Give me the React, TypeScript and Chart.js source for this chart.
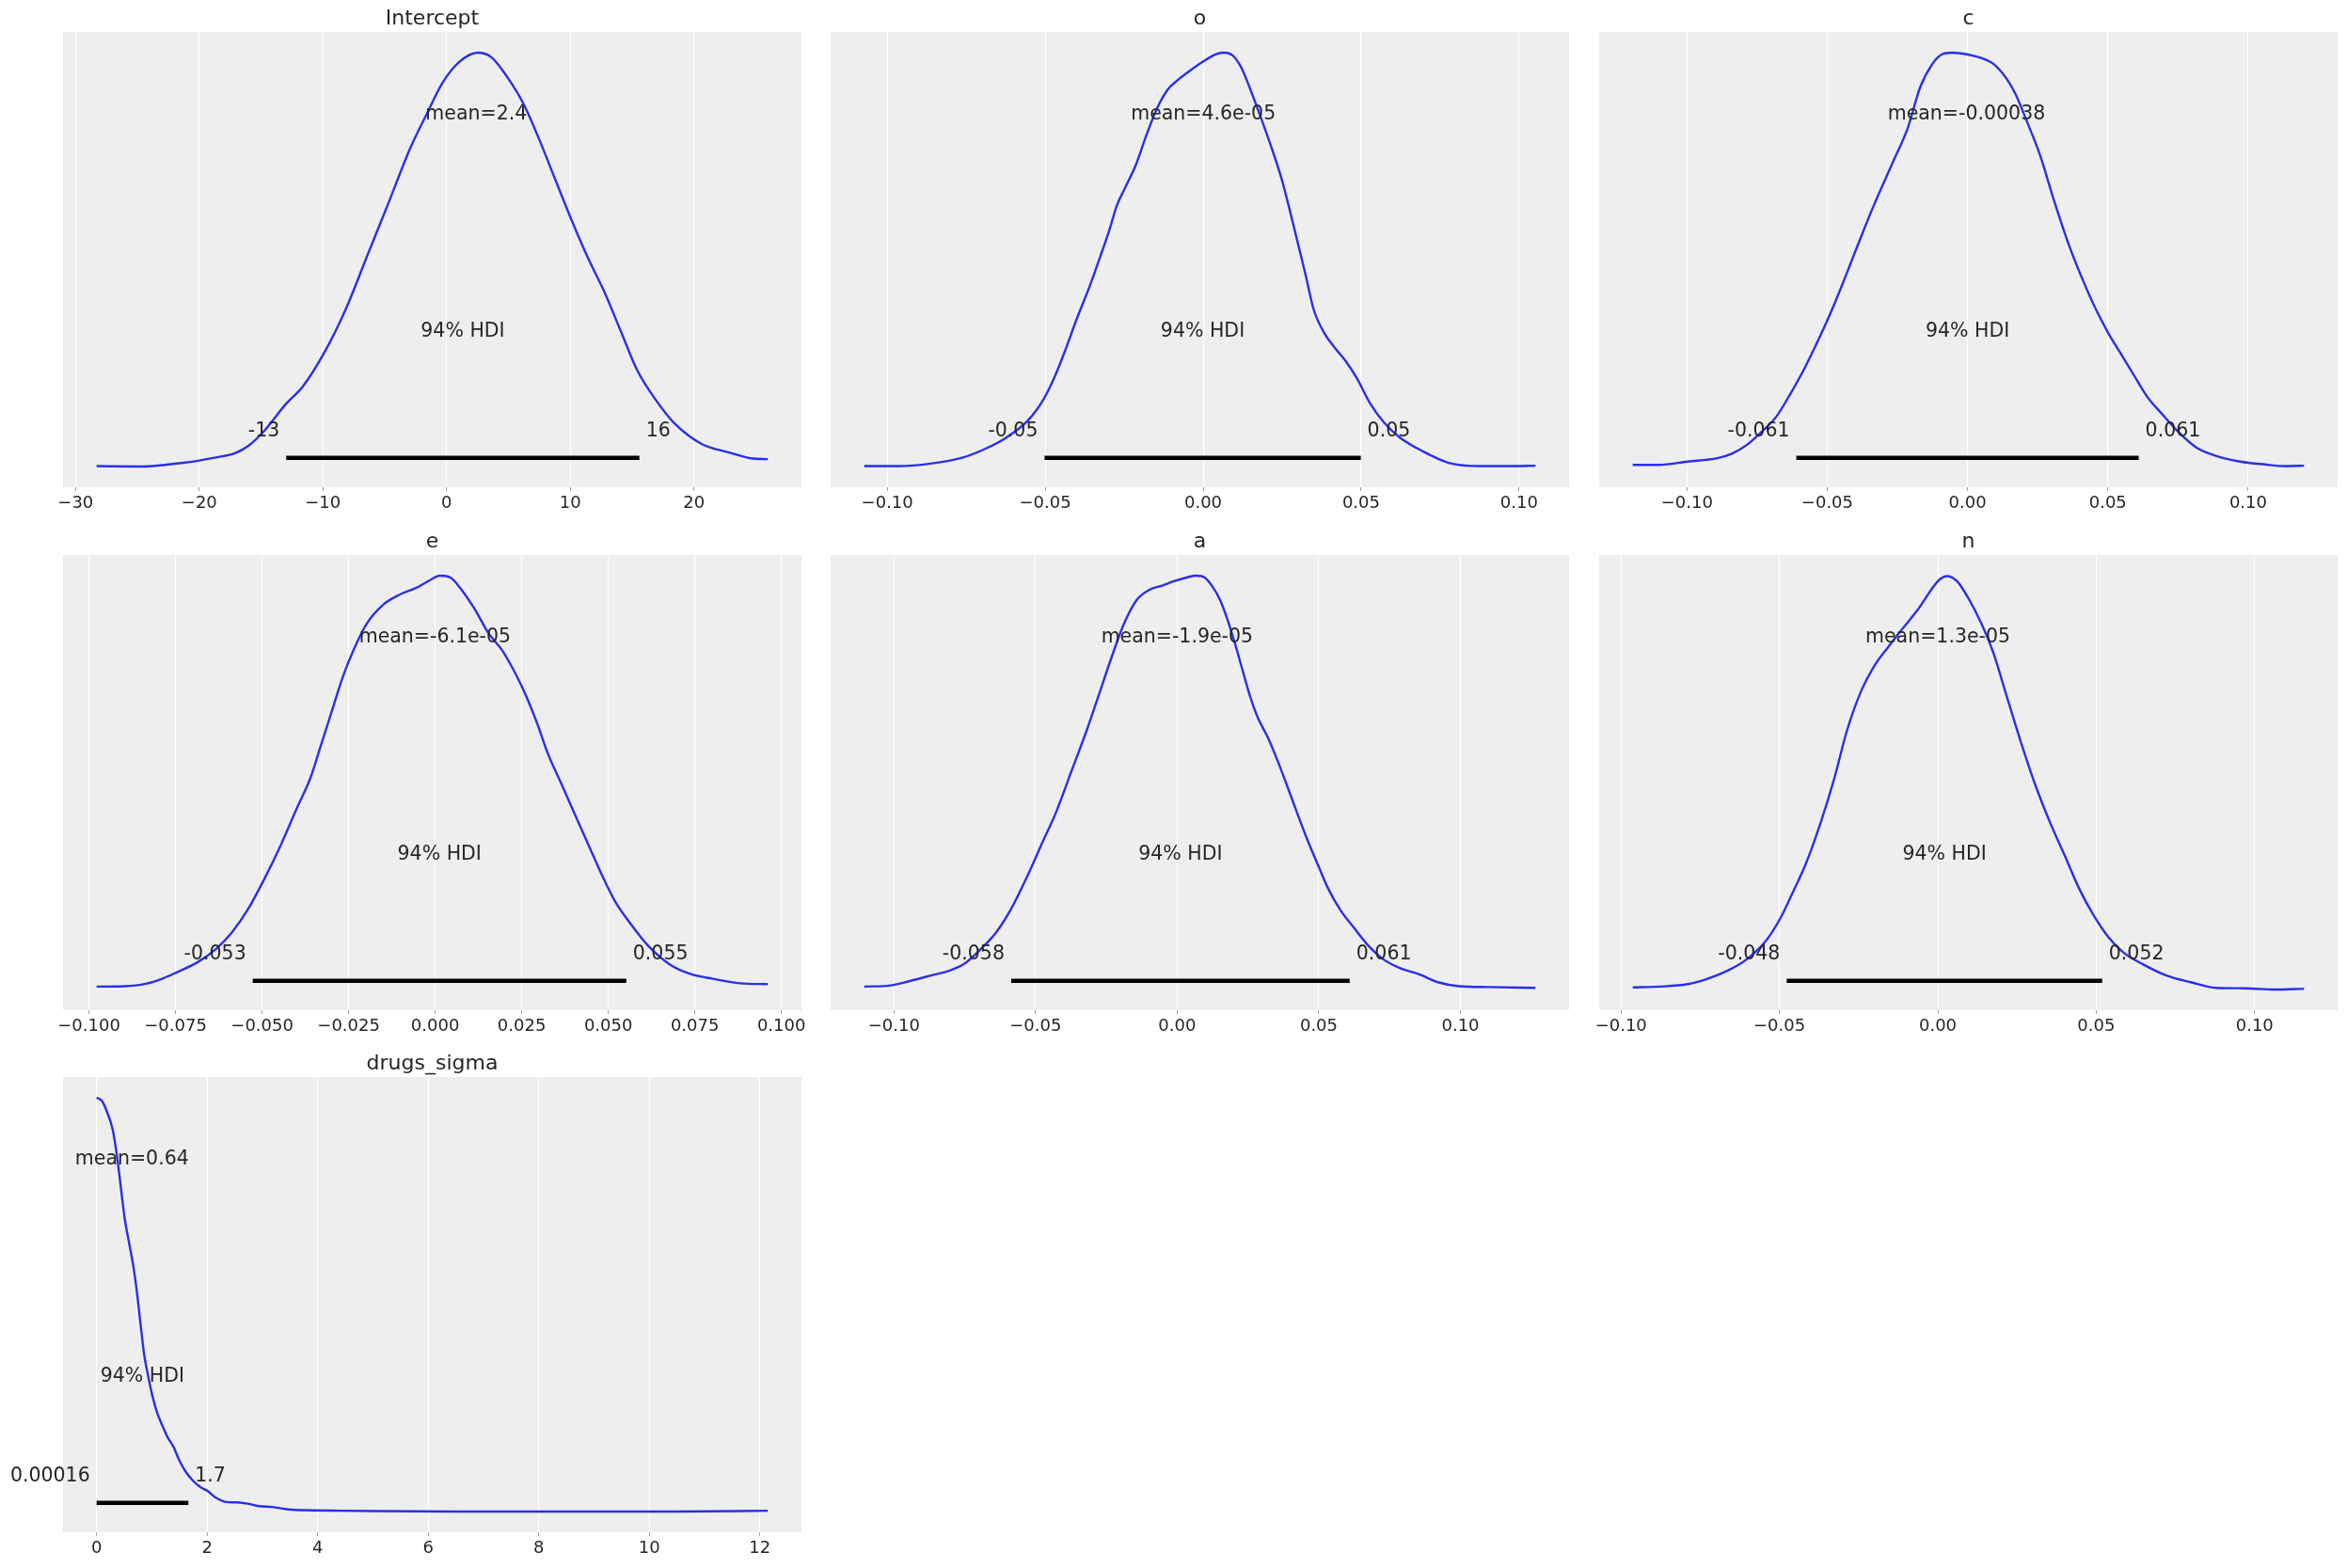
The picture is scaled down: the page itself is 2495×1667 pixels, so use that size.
import React, { useEffect, useRef } from "react";
import { Chart, registerables } from "chart.js";

Chart.register(...registerables);

// ---------------- data ----------------
const panelTitles = ["Intercept", "o", "c", "e", "a", "n", "drugs_sigma"];

const interceptX = [-28.3, -24.76, -21.27, -18.65, -17.12, -16.03, -14.72, -12.97, -11.66, -9.91, -8.17, -6.42, -4.67, -2.93, -1.62, -0.31, 1.0, 2.53, 3.62, 4.93, 6.24, 7.55, 8.86, 10.17, 11.48, 12.79, 14.1, 15.41, 16.94, 18.47, 20.66, 22.84, 24.59, 25.98];
const interceptDensity = [0.001, 0.0, 0.009, 0.022, 0.032, 0.05, 0.087, 0.152, 0.192, 0.274, 0.379, 0.509, 0.639, 0.77, 0.851, 0.928, 0.977, 1.0, 0.989, 0.94, 0.875, 0.786, 0.688, 0.591, 0.501, 0.42, 0.326, 0.233, 0.16, 0.103, 0.054, 0.034, 0.02, 0.018];

const oX = [-0.1073, -0.0965, -0.0863, -0.076, -0.0692, -0.0623, -0.0555, -0.0504, -0.047, -0.0436, -0.0401, -0.0359, -0.0325, -0.0299, -0.0273, -0.0248, -0.0213, -0.0179, -0.0145, -0.0111, -0.0077, -0.0034, 0.0009, 0.0043, 0.0068, 0.0094, 0.012, 0.0145, 0.0179, 0.0213, 0.0248, 0.0273, 0.0299, 0.0325, 0.035, 0.0384, 0.0418, 0.0453, 0.0487, 0.0529, 0.0572, 0.0623, 0.0692, 0.0777, 0.088, 0.0982, 0.1052];
const oDensity = [0.001, 0.001, 0.007, 0.022, 0.042, 0.07, 0.111, 0.164, 0.217, 0.282, 0.355, 0.436, 0.509, 0.566, 0.631, 0.672, 0.729, 0.802, 0.867, 0.912, 0.936, 0.961, 0.983, 0.997, 1.0, 0.993, 0.965, 0.92, 0.851, 0.778, 0.696, 0.623, 0.542, 0.461, 0.379, 0.322, 0.286, 0.253, 0.213, 0.152, 0.107, 0.07, 0.038, 0.009, 0.001, 0.001, 0.002];

const cX = [-0.1193, -0.1101, -0.0997, -0.0892, -0.084, -0.0787, -0.0735, -0.0683, -0.0631, -0.0578, -0.0526, -0.0483, -0.0439, -0.0387, -0.0334, -0.0265, -0.0213, -0.0169, -0.0125, -0.0091, -0.0056, -0.0003, 0.0049, 0.0092, 0.0136, 0.0171, 0.0206, 0.0258, 0.031, 0.0362, 0.0415, 0.0458, 0.0502, 0.0545, 0.0589, 0.0641, 0.0693, 0.0746, 0.0815, 0.0885, 0.0972, 0.1059, 0.1129, 0.1199];
const cDensity = [0.004, 0.004, 0.012, 0.02, 0.031, 0.052, 0.083, 0.119, 0.176, 0.241, 0.314, 0.379, 0.452, 0.542, 0.631, 0.737, 0.818, 0.916, 0.973, 0.996, 1.0, 0.996, 0.987, 0.973, 0.94, 0.9, 0.843, 0.753, 0.639, 0.534, 0.444, 0.379, 0.322, 0.274, 0.225, 0.168, 0.127, 0.087, 0.046, 0.026, 0.012, 0.005, 0.001, 0.002];

const eX = [-0.0978, -0.0899, -0.0836, -0.0789, -0.0743, -0.0688, -0.0633, -0.0587, -0.054, -0.0493, -0.0446, -0.0399, -0.036, -0.0329, -0.0298, -0.0267, -0.0236, -0.0197, -0.015, -0.0103, -0.0056, -0.0017, 0.0014, 0.0045, 0.0076, 0.0115, 0.0154, 0.0193, 0.0232, 0.0264, 0.0295, 0.0326, 0.0365, 0.0404, 0.0443, 0.0482, 0.0521, 0.0568, 0.0615, 0.0677, 0.0739, 0.0802, 0.088, 0.0961];
const eDensity = [0.007, 0.008, 0.014, 0.026, 0.043, 0.065, 0.098, 0.138, 0.195, 0.268, 0.349, 0.439, 0.512, 0.593, 0.674, 0.755, 0.82, 0.885, 0.93, 0.954, 0.97, 0.988, 1.0, 0.995, 0.966, 0.918, 0.861, 0.82, 0.763, 0.707, 0.642, 0.569, 0.496, 0.422, 0.349, 0.276, 0.211, 0.155, 0.106, 0.061, 0.037, 0.026, 0.015, 0.013];

const aX = [-0.1105, -0.1012, -0.0941, -0.087, -0.0799, -0.0746, -0.0693, -0.0639, -0.0586, -0.0533, -0.048, -0.0426, -0.0373, -0.032, -0.0275, -0.0231, -0.0187, -0.0142, -0.0098, -0.0053, -0.0009, 0.0036, 0.0067, 0.0098, 0.0124, 0.0151, 0.0178, 0.0204, 0.0231, 0.0258, 0.0284, 0.032, 0.0355, 0.0391, 0.0426, 0.0462, 0.0497, 0.0533, 0.0577, 0.0622, 0.0675, 0.0728, 0.0782, 0.0853, 0.0924, 0.0995, 0.1101, 0.1265];
const aDensity = [0.007, 0.01, 0.021, 0.034, 0.047, 0.065, 0.098, 0.138, 0.195, 0.268, 0.349, 0.431, 0.528, 0.625, 0.715, 0.804, 0.885, 0.942, 0.966, 0.976, 0.987, 0.996, 1.0, 0.995, 0.974, 0.942, 0.893, 0.836, 0.771, 0.707, 0.658, 0.609, 0.552, 0.487, 0.422, 0.358, 0.301, 0.244, 0.191, 0.151, 0.106, 0.073, 0.053, 0.037, 0.017, 0.008, 0.006, 0.004];

const nX = [-0.0963, -0.0881, -0.0789, -0.0727, -0.0665, -0.0603, -0.0542, -0.0495, -0.0457, -0.0418, -0.0372, -0.0326, -0.0287, -0.0241, -0.0202, -0.0156, -0.011, -0.0063, -0.0017, 0.0006, 0.0029, 0.006, 0.0099, 0.0137, 0.0176, 0.0215, 0.0261, 0.0307, 0.0353, 0.04, 0.0446, 0.0492, 0.0539, 0.0585, 0.0647, 0.0724, 0.0801, 0.0878, 0.0971, 0.1063, 0.1156];
const nDensity = [0.005, 0.007, 0.013, 0.026, 0.045, 0.073, 0.118, 0.175, 0.236, 0.301, 0.398, 0.512, 0.625, 0.723, 0.78, 0.828, 0.873, 0.918, 0.97, 0.991, 0.999, 0.987, 0.942, 0.885, 0.812, 0.715, 0.601, 0.496, 0.406, 0.325, 0.244, 0.179, 0.126, 0.09, 0.061, 0.033, 0.017, 0.004, 0.003, 0.0, 0.002];

const sigmaX = [0, 0.098, 0.196, 0.293, 0.372, 0.44, 0.509, 0.587, 0.665, 0.733, 0.802, 0.861, 0.929, 1.007, 1.095, 1.193, 1.291, 1.389, 1.496, 1.614, 1.741, 1.878, 2.005, 2.152, 2.347, 2.543, 2.738, 2.934, 3.178, 3.472, 3.912, 4.401, 5.086, 6.553, 8.509, 10.465, 12.147];
const sigmaDensity = [1.0, 0.992, 0.963, 0.922, 0.856, 0.782, 0.708, 0.65, 0.593, 0.527, 0.445, 0.379, 0.33, 0.281, 0.239, 0.207, 0.178, 0.157, 0.124, 0.096, 0.075, 0.059, 0.05, 0.034, 0.023, 0.022, 0.019, 0.013, 0.011, 0.005, 0.003, 0.002, 0.001, 0.0, 0.0, 0.0, 0.002];

const meanValues = [2.4, 4.6e-5, -0.00038, -6.1e-5, -1.9e-5, 1.3e-5, 0.64];
const meanLabels = ["mean=2.4", "mean=4.6e-05", "mean=-0.00038", "mean=-6.1e-05", "mean=-1.9e-05", "mean=1.3e-05", "mean=0.64"];
const hdiLow = [-12.97, -0.0502, -0.061, -0.0527, -0.0586, -0.0477, 0.00016];
const hdiHigh = [15.59, 0.0499, 0.061, 0.0552, 0.0609, 0.0519, 1.66];
const hdiLowLabels = ["-13", "-0.05", "-0.061", "-0.053", "-0.058", "-0.048", "0.00016"];
const hdiHighLabels = ["16", "0.05", "0.061", "0.055", "0.061", "0.052", "1.7"];
const hdiText = "94% HDI";

const interceptTicks = [-30, -20, -10, 0, 10, 20];
const interceptTickLabels = ["\u221230", "\u221220", "\u221210", "0", "10", "20"];
const coefTicks = [-0.1, -0.05, 0, 0.05, 0.1];
const coefTickLabels = ["\u22120.10", "\u22120.05", "0.00", "0.05", "0.10"];
const eTicks = [-0.1, -0.075, -0.05, -0.025, 0, 0.025, 0.05, 0.075, 0.1];
const eTickLabels = ["\u22120.100", "\u22120.075", "\u22120.050", "\u22120.025", "0.000", "0.025", "0.050", "0.075", "0.100"];
const sigmaTicks = [0, 2, 4, 6, 8, 10, 12];
const sigmaTickLabels = ["0", "2", "4", "6", "8", "10", "12"];

// annotation levels (in density units, as used by the posterior plot)
const MEAN_LEVEL = 0.839;
const HDI_TEXT_LEVEL = 0.313;
const HDI_LABEL_LEVEL = 0.072;
const HDI_BAR_LEVEL = 0.021;

const xs = [interceptX, oX, cX, eX, aX, nX, sigmaX];
const ds = [interceptDensity, oDensity, cDensity, eDensity, aDensity, nDensity, sigmaDensity];
const tks = [interceptTicks, coefTicks, coefTicks, eTicks, coefTicks, coefTicks, sigmaTicks];
const tkl = [interceptTickLabels, coefTickLabels, coefTickLabels, eTickLabels, coefTickLabels, coefTickLabels, sigmaTickLabels];

// ---------------- layout / style ----------------
const FIG_W = 2495;
const FIG_H = 1667;
const COL_LEFT = [67.2, 883, 1700];
const ROW_TOP = [34, 589.5, 1145];
const AX_W = 784.5;
const AX_H = 484;
const PAD_X = 80;
const PAD_TOP = 44;
const AXIS_H = 45;
const FONT = "'DejaVu Sans', 'Liberation Sans', sans-serif";
const TEXT_COLOR = "#262626";
const LINE_COLOR = "#2a2eec";

Chart.defaults.font.family = FONT;
Chart.defaults.font.size = 18;
Chart.defaults.color = TEXT_COLOR;

function Panel({ idx }: { idx: number }) {
  const ref = useRef<HTMLCanvasElement>(null);
  const col = idx % 3;
  const row = Math.floor(idx / 3);
  const left = COL_LEFT[col] - PAD_X;
  const top = ROW_TOP[row] - PAD_TOP;
  const w = Math.round(AX_W + 2 * PAD_X);
  const h = Math.round(PAD_TOP + AX_H + AXIS_H);

  useEffect(() => {
    const x = xs[idx];
    const d = ds[idx];
    const lo = Math.min(...x);
    const hi = Math.max(...x);
    const span = hi - lo;
    const ticks = tks[idx];
    const labels = tkl[idx];

    const decor = {
      id: "decor" + idx,
      beforeDraw(chart: any) {
        const { ctx, chartArea: a } = chart;
        ctx.save();
        ctx.fillStyle = "#eeeeee";
        ctx.fillRect(a.left, a.top, a.right - a.left, a.bottom - a.top);
        ctx.restore();
      },
      afterDatasetsDraw(chart: any) {
        const { ctx, chartArea: a } = chart;
        const sx = chart.scales.x;
        const sy = chart.scales.y;
        ctx.save();
        ctx.fillStyle = TEXT_COLOR;
        ctx.textBaseline = "alphabetic";
        ctx.font = `20.5px ${FONT}`;
        ctx.textAlign = "center";
        ctx.fillText(meanLabels[idx], sx.getPixelForValue(meanValues[idx]), sy.getPixelForValue(MEAN_LEVEL));
        ctx.fillText(hdiText, sx.getPixelForValue((hdiLow[idx] + hdiHigh[idx]) / 2), sy.getPixelForValue(HDI_TEXT_LEVEL));
        ctx.textAlign = "right";
        ctx.fillText(hdiLowLabels[idx], sx.getPixelForValue(hdiLow[idx]) - 7, sy.getPixelForValue(HDI_LABEL_LEVEL));
        ctx.textAlign = "left";
        ctx.fillText(hdiHighLabels[idx], sx.getPixelForValue(hdiHigh[idx]) + 7, sy.getPixelForValue(HDI_LABEL_LEVEL));
        ctx.font = `22px ${FONT}`;
        ctx.textAlign = "center";
        ctx.fillText(panelTitles[idx], (a.left + a.right) / 2, a.top - 8);
        ctx.restore();
      },
    };

    const chart = new Chart(ref.current as HTMLCanvasElement, {
      type: "line",
      data: {
        datasets: [
          {
            data: x.map((v, i) => ({ x: v, y: d[i] })),
            borderColor: LINE_COLOR,
            borderWidth: 2.4,
            pointRadius: 0,
            cubicInterpolationMode: "monotone",
            fill: false,
          },
          {
            data: [
              { x: hdiLow[idx], y: HDI_BAR_LEVEL },
              { x: hdiHigh[idx], y: HDI_BAR_LEVEL },
            ],
            borderColor: "#000000",
            borderWidth: 4.4,
            borderCapStyle: "butt",
            pointRadius: 0,
            fill: false,
          },
        ],
      },
      options: {
        animation: false,
        responsive: false,
        devicePixelRatio: 1,
        layout: { padding: { left: PAD_X, right: PAD_X, top: PAD_TOP, bottom: 0 } },
        plugins: { legend: { display: false }, tooltip: { enabled: false }, title: { display: false } },
        events: [],
        scales: {
          x: {
            type: "linear",
            min: lo - 0.05 * span,
            max: hi + 0.05 * span,
            afterBuildTicks: (s: any) => {
              s.ticks = ticks.map((v) => ({ value: v }));
            },
            afterFit: (s: any) => {
              s.height = AXIS_H;
            },
            border: { display: false },
            grid: {
              color: "#ffffff",
              lineWidth: 1,
              drawTicks: true,
              tickLength: 4,
              tickColor: "#a0a0a0",
              tickWidth: 1,
            },
            ticks: {
              autoSkip: false,
              maxRotation: 0,
              minRotation: 0,
              padding: 3,
              color: TEXT_COLOR,
              font: { size: 18, family: FONT, lineHeight: 1.2 },
              callback: (_v: any, i: number) => labels[i],
            },
          },
          y: {
            type: "linear",
            display: false,
            min: -0.05,
            max: 1.05,
          },
        },
      },
      plugins: [decor],
    } as any);
    return () => chart.destroy();
  }, [idx]);

  return (
    <canvas
      ref={ref}
      width={w}
      height={h}
      style={{ position: "absolute", left, top, width: w, height: h }}
    />
  );
}

export default function App() {
  return (
    <div
      style={{
        position: "absolute",
        left: 0,
        top: 0,
        width: FIG_W,
        height: FIG_H,
        background: "#ffffff",
        overflow: "hidden",
      }}
    >
      {panelTitles.map((_t, i) => (
        <Panel key={i} idx={i} />
      ))}
    </div>
  );
}
